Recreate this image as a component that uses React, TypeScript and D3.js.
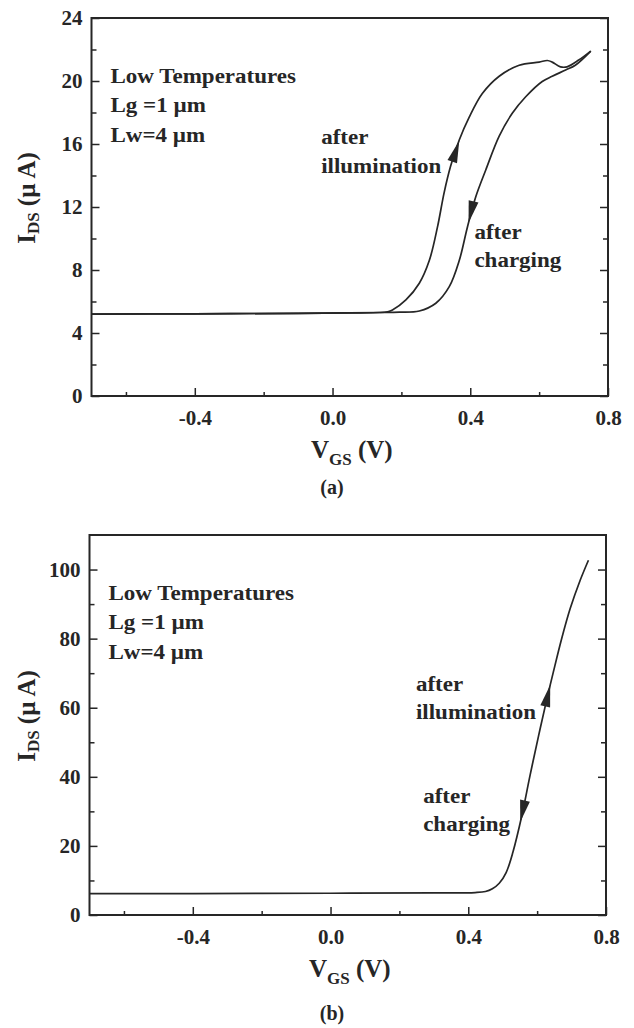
import React, { useRef, useEffect } from 'react';
import * as d3 from 'd3';

// panel (a): the two sweeps open a hysteresis loop
const illumA_V = [-0.7, -0.4, -0.1, 0.05, 0.137, 0.16, 0.174, 0.213, 0.252, 0.281, 0.305, 0.324, 0.343, 0.368, 0.397, 0.435, 0.484, 0.542, 0.6, 0.624, 0.638, 0.662, 0.681, 0.715, 0.75];
const illumA_I = [5.2, 5.22, 5.25, 5.28, 5.3, 5.35, 5.46, 6.1, 7.16, 8.6, 10.75, 12.9, 14.6, 16.25, 17.7, 19.2, 20.3, 21.0, 21.2, 21.3, 21.2, 20.9, 20.9, 21.33, 21.9];
const chargeA_V = [-0.7, -0.4, -0.1, 0.05, 0.137, 0.194, 0.252, 0.3, 0.339, 0.368, 0.392, 0.416, 0.445, 0.484, 0.522, 0.561, 0.609, 0.638, 0.677, 0.705, 0.75];
const chargeA_I = [5.2, 5.22, 5.25, 5.28, 5.3, 5.32, 5.4, 5.89, 6.94, 8.6, 10.75, 12.65, 14.35, 16.5, 17.95, 19.0, 19.97, 20.3, 20.7, 21.0, 21.9];

// panel (b): both sweeps lie on one curve
const sweepB_V = [-0.7, -0.4, 0.0, 0.3, 0.42, 0.45, 0.47, 0.49, 0.51, 0.53, 0.555, 0.579, 0.604, 0.628, 0.647, 0.671, 0.696, 0.725, 0.749];
const sweepB_I = [6.2, 6.2, 6.3, 6.4, 6.5, 6.8, 7.6, 9.2, 12.3, 18.3, 28.5, 40.2, 51.8, 62.4, 70.3, 79.9, 88.7, 96.9, 102.7];

const xMajor = [-0.4, 0.0, 0.4, 0.8];
const xMinor = [-0.6, -0.2, 0.2, 0.6];
const yMajorA = [0, 4, 8, 12, 16, 20, 24];
const yMinorA = [2, 6, 10, 14, 18, 22];
const yMajorB = [0, 20, 40, 60, 80, 100];
const yMinorB = [10, 30, 50, 70, 90];

const noteLines = ['Low Temperatures', 'Lg =1 µm', 'Lw=4 µm'];

const INK = '#262626';
const FONT = '"Liberation Serif", "Times New Roman", serif';

const drawPanel = (svg, p) => {
    const x = d3.scaleLinear().domain([-0.7, 0.8]).range([p.left, p.right]);
    const y = d3.scaleLinear().domain(p.yDomain).range([p.bottom, p.top]);
    const g = svg.append('g');

    const line = d3.line()
        .x(d => x(d[0]))
        .y(d => y(d[1]))
        .curve(d3.curveCatmullRom.alpha(0.5));

    p.series.forEach(s => {
        g.append('path')
            .datum(d3.zip(s.V, s.I))
            .attr('fill', 'none')
            .attr('stroke', INK)
            .attr('stroke-width', 1.7)
            .attr('stroke-linejoin', 'round')
            .attr('d', line);
    });

    // arrow heads along the curve
    p.arrows.forEach(a => {
        const tx = x(a.tip[0]), ty = y(a.tip[1]);
        const bx = x(a.tail[0]), by = y(a.tail[1]);
        const len = Math.hypot(tx - bx, ty - by);
        const ux = (tx - bx) / len, uy = (ty - by) / len;
        const L = 22, w = 5;
        const cx = tx - ux * L, cy = ty - uy * L;
        g.append('path')
            .attr('d', `M${tx},${ty}L${cx - uy * w},${cy + ux * w}L${cx + uy * w},${cy - ux * w}Z`)
            .attr('fill', INK);
    });

    const styleAxis = (sel) => {
        sel.select('.domain').remove();
        sel.selectAll('line').attr('stroke', INK).attr('stroke-width', 1.5);
        sel.attr('font-family', FONT).attr('font-size', 21).attr('font-weight', 'bold');
        sel.selectAll('text').attr('fill', INK);
    };

    // left
    g.append('g').attr('transform', `translate(${p.left},0)`)
        .call(d3.axisLeft(y).tickValues(p.yMajor).tickSize(-8).tickPadding(9).tickFormat(d3.format('d')))
        .call(styleAxis);
    g.append('g').attr('transform', `translate(${p.left},0)`)
        .call(d3.axisLeft(y).tickValues(p.yMinor).tickSize(-5).tickFormat(() => ''))
        .call(styleAxis);
    // right
    g.append('g').attr('transform', `translate(${p.right},0)`)
        .call(d3.axisRight(y).tickValues(p.yMajor).tickSize(-8).tickFormat(() => ''))
        .call(styleAxis);
    g.append('g').attr('transform', `translate(${p.right},0)`)
        .call(d3.axisRight(y).tickValues(p.yMinor).tickSize(-5).tickFormat(() => ''))
        .call(styleAxis);
    // bottom
    g.append('g').attr('transform', `translate(0,${p.bottom})`)
        .call(d3.axisBottom(x).tickValues(xMajor).tickSize(-8).tickPadding(14).tickFormat(d => d.toFixed(1)))
        .call(styleAxis);
    g.append('g').attr('transform', `translate(0,${p.bottom})`)
        .call(d3.axisBottom(x).tickValues(xMinor).tickSize(-4).tickFormat(() => ''))
        .call(styleAxis);

    g.append('rect')
        .attr('x', p.left).attr('y', p.top)
        .attr('width', p.right - p.left).attr('height', p.bottom - p.top)
        .attr('fill', 'none').attr('stroke', INK).attr('stroke-width', 2);

    const label = (tx, ty, str) => g.append('text')
        .attr('transform', `translate(${tx},${ty}) scale(1.15,1)`)
        .attr('font-family', FONT).attr('font-size', 20).attr('font-weight', 'bold')
        .attr('fill', INK)
        .text(str);

    noteLines.forEach((s, i) => label(p.left + 19, p.top + 65 + i * 29.3, s));
    p.notes.forEach(n => label(x(n.at[0]), y(n.at[1]), n.text));

    // axis titles
    const xt = g.append('text')
        .attr('x', (p.left + p.right) / 2 + 2).attr('y', p.bottom + 62)
        .attr('text-anchor', 'middle')
        .attr('font-family', FONT).attr('font-size', 25).attr('font-weight', 'bold').attr('fill', INK);
    xt.append('tspan').text('V');
    xt.append('tspan').attr('font-size', 17).attr('dy', 7).text('GS');
    xt.append('tspan').attr('dy', -7).text(' (V)');

    const yt = g.append('text')
        .attr('transform', `translate(35,${(p.top + p.bottom) / 2 - 9}) rotate(-90)`)
        .attr('text-anchor', 'middle')
        .attr('font-family', FONT).attr('font-size', 25).attr('font-weight', 'bold').attr('fill', INK);
    yt.append('tspan').text('I');
    yt.append('tspan').attr('font-size', 17).attr('dy', 4).text('DS');
    yt.append('tspan').attr('dy', -4).text(' (µ A)');

    g.append('text')
        .attr('x', 332).attr('y', p.bottom + p.capOffset)
        .attr('text-anchor', 'middle')
        .attr('font-family', FONT).attr('font-size', 20).attr('font-weight', 'bold').attr('fill', INK)
        .text(p.caption);
};

const App = () => {
    const ref = useRef(null);

    useEffect(() => {
        const svg = d3.select(ref.current);
        svg.selectAll('*').remove();

        drawPanel(svg, {
            left: 91.5, right: 608, top: 18, bottom: 396,
            yDomain: [0, 24], yMajor: yMajorA, yMinor: yMinorA,
            series: [{ V: illumA_V, I: illumA_I }, { V: chargeA_V, I: chargeA_I }],
            arrows: [
                { tip: [0.368, 16.2], tail: [0.345, 14.7] },
                { tip: [0.395, 11.0], tail: [0.41, 12.4] },
            ],
            notes: [
                { text: 'after', at: [-0.033, 16.0] },
                { text: 'illumination', at: [-0.033, 14.14] },
                { text: 'after', at: [0.412, 10.0] },
                { text: 'charging', at: [0.412, 8.2] },
            ],
            caption: '(a)', capOffset: 98,
        });

        drawPanel(svg, {
            left: 89.5, right: 606, top: 535, bottom: 915,
            yDomain: [0, 110], yMajor: yMajorB, yMinor: yMinorB,
            series: [{ V: sweepB_V, I: sweepB_I }],
            arrows: [
                { tip: [0.638, 66.6], tail: [0.624, 60.6] },
                { tip: [0.551, 26.9], tail: [0.562, 31.9] },
            ],
            notes: [
                { text: 'after', at: [0.248, 64.8] },
                { text: 'illumination', at: [0.248, 56.6] },
                { text: 'after', at: [0.269, 32.4] },
                { text: 'charging', at: [0.269, 24.4] },
            ],
            caption: '(b)', capOffset: 105,
        });
    }, []);

    return (
        <svg ref={ref} width={634} height={1028}
            style={{ position: 'absolute', left: 0, top: 0, background: '#fff' }} />
    );
};

export default App;
